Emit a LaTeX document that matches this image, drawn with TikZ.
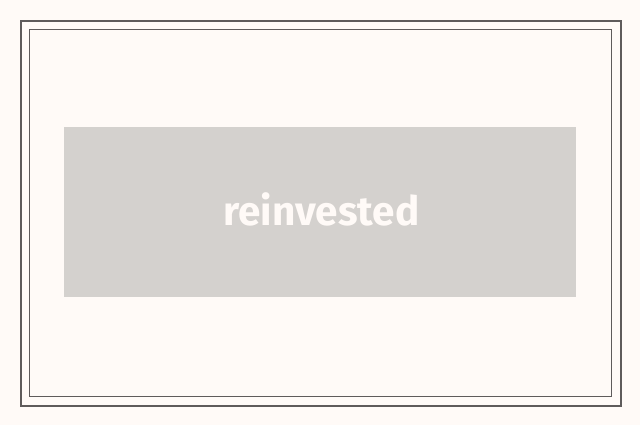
\documentclass[tikz,border=0pt]{standalone}
\usepackage{fontspec}
\setmainfont{Fira Sans}
\definecolor{bg}{HTML}{FFFAF7}
\definecolor{frame}{HTML}{5F5B5B}
\definecolor{panel}{HTML}{D4D1CE}
\begin{document}
\begin{tikzpicture}[x=1pt,y=-1pt,
  outerframe/.style={draw=frame,line width=2pt},
  innerframe/.style={draw=frame,line width=1pt},
  panelbox/.style={fill=panel,draw=none,inner sep=0pt,minimum width=512pt,minimum height=170pt},
  labeltext/.style={text=bg,font=\fontsize{40.5}{46}\selectfont\bfseries,inner sep=0pt}]
\useasboundingbox[fill=bg] (0,0) rectangle (640,425);
\draw[outerframe] (21,21) rectangle (621,406);
\draw[innerframe] (29.5,29.5) rectangle (611.5,396.5);
\node[panelbox] (panel) at (320,212) {};
\node[labeltext,anchor=base] (label) at (321.5,225) {reinvested};
\end{tikzpicture}
\end{document}
